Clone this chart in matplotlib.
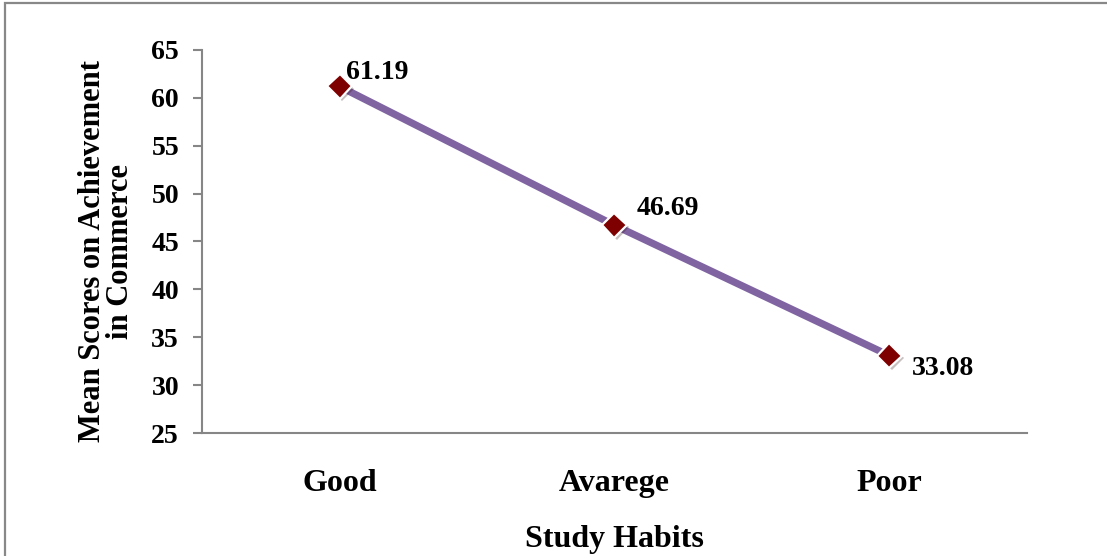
import matplotlib.pyplot as plt
import matplotlib.patheffects as pe
from matplotlib.patches import Rectangle

plt.rcParams['font.family'] = ['Liberation Serif', 'DejaVu Serif']
plt.rcParams['font.weight'] = 'bold'

habits = ["Good", "Avarege", "Poor"]
mean_scores = [61.19, 46.69, 33.08]
y_ticks = [25, 30, 35, 40, 45, 50, 55, 60, 65]
# label offsets in points (dx, dy)
label_offsets = [(5, 10), (16, 12), (16, -9)]

fig = plt.figure(figsize=(11.07, 5.56), dpi=100)
ax = fig.add_axes([0.1825, 0.2212, 0.7452, 0.6889])

# outer chart frame
fig.patches.append(Rectangle((5 / 1107, -0.5), 2.0, 1.5 - 3 / 556,
                             transform=fig.transFigure, fill=False,
                             edgecolor='#888888', linewidth=1.6))

x = range(len(habits))
ax.plot(x, mean_scores, color='#8064A2', linewidth=5.2, solid_capstyle='butt', zorder=2)
ax.plot(x, mean_scores, linestyle='none', marker='D', markersize=13,
        markerfacecolor='#7F0000', markeredgecolor='white', markeredgewidth=1.6,
        zorder=3,
        path_effects=[pe.SimplePatchShadow(offset=(1.5, -1.5), alpha=0.25), pe.Normal()])

for i, v in enumerate(mean_scores):
    dx, dy = label_offsets[i]
    ax.annotate(f"{v:.2f}", (i, v), xytext=(dx, dy), textcoords='offset points',
                ha='left', va='center', fontsize=20, fontweight='bold')

ax.set_xlim(-0.5, 2.5)
ax.set_ylim(25, 65)
ax.set_xticks(list(x))
ax.set_xticklabels(habits, fontsize=23, fontweight='bold')
ax.set_yticks(y_ticks)
ax.set_yticklabels([str(t) for t in y_ticks], fontsize=20, fontweight='bold')
ax.tick_params(axis='x', length=0, pad=26)
ax.tick_params(axis='y', length=6.5, width=1.5, color='#868686', pad=10)

for s in ['top', 'right']:
    ax.spines[s].set_visible(False)
for s in ['left', 'bottom']:
    ax.spines[s].set_color('#868686')
    ax.spines[s].set_linewidth(1.5)

ax.set_xlabel("Study Habits", fontsize=23, fontweight='bold', labelpad=19)
ax.set_ylabel("Mean Scores on Achievement\nin Commerce", fontsize=22,
              fontweight='bold', labelpad=12, linespacing=0.95)
ax.yaxis.label.set_y(0.474)

fig.savefig("out.png", dpi=100)
